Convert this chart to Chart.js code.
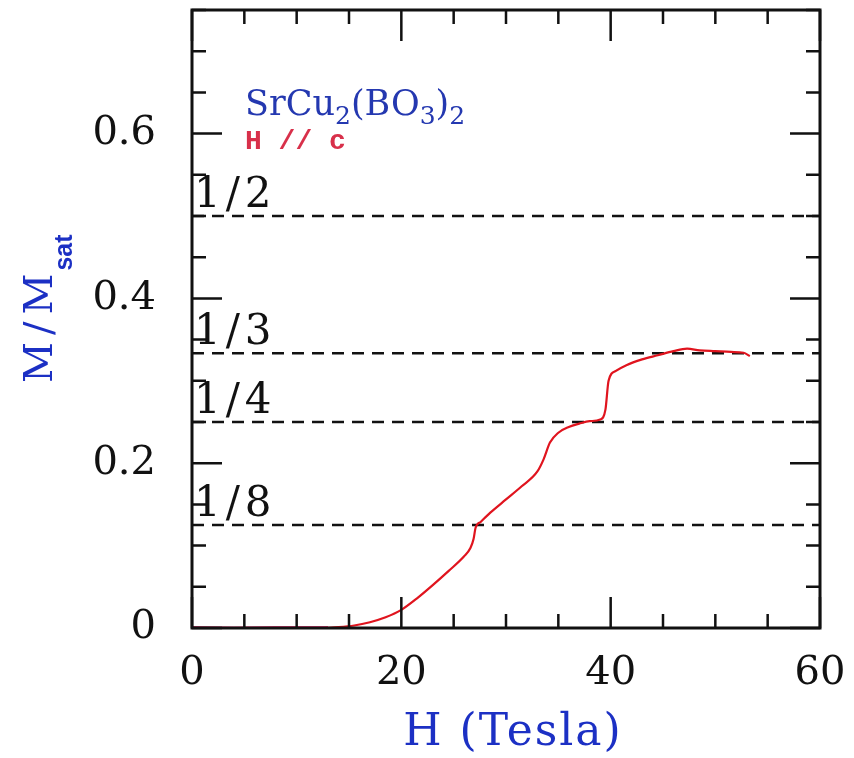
<!DOCTYPE html>
<html>
<head>
<meta charset="utf-8">
<script src="https://cdn.jsdelivr.net/npm/chart.js@4"></script>
<style>
  html, body { margin: 0; padding: 0; background: #fff; }
  #wrap { width: 854px; height: 758px; }
</style>
</head>
<body>
<div id="wrap"><canvas id="magChart" width="854" height="758"></canvas></div>
<script>
// low-field part of the sweep (drawn pinkish in the original)
const fieldLow = [0, 4, 8, 13];
const momentLow = [0.001, 0.0005, 0.001, 0.001];

// main magnetization curve, H in Tesla, M/Msat
const field = [12.5, 14, 15.5, 17, 18.5, 20, 21.5, 23, 24.5, 26, 26.6, 26.9, 27.1, 27.6, 28.5,
    30, 31.5, 33, 33.6, 34.2, 35, 36, 37, 38, 39, 39.5, 39.8, 40.5, 41.5, 43, 44.5,
    46, 47.3, 48.5, 50, 51.5, 52.7, 53.3];
const moment = [0.000, 0.001, 0.003, 0.007, 0.013, 0.022, 0.036, 0.052, 0.069, 0.087, 0.097, 0.108, 0.122, 0.129, 0.140,
    0.156, 0.172, 0.190, 0.205, 0.225, 0.237, 0.244, 0.248, 0.251, 0.253, 0.265, 0.300, 0.312, 0.319, 0.326, 0.331,
    0.336, 0.339, 0.337, 0.336, 0.335, 0.334, 0.330];

const plateauValues = [1 / 2, 1 / 3, 1 / 4, 1 / 8];
const plateauLabels = ["1/2", "1/3", "1/4", "1/8"];

const xTicks = [0, 20, 40, 60];
const yTicks = [0, 0.2, 0.4, 0.6];
const xMinorStep = 5;
const yMinorStep = 0.05;

const serif = "'DejaVu Serif', 'Liberation Serif', serif";
const titleBlue = "#1c30c4";

const toPoints = (xs, ys) => xs.map((x, i) => ({ x: x, y: ys[i] }));

const plateauSets = plateauValues.map(v => ({
    data: [{ x: 0, y: v }, { x: 60, y: v }],
    borderColor: "#111",
    borderWidth: 2.5,
    borderDash: [12, 8],
    pointRadius: 0,
    fill: false
}));

const noPad = s => {
    s.paddingTop = 0; s.paddingBottom = 0;
    s.paddingLeft = 0; s.paddingRight = 0;
};

// inward ticks on all four sides + frame + annotations
const framePlugin = {
    id: "frameAndText",
    afterDraw(chart) {
        const { ctx, chartArea: a, scales } = chart;
        const xs = scales.x, ys = scales.y;
        ctx.save();
        ctx.strokeStyle = "#111";
        ctx.lineWidth = 2.5;

        // ticks
        for (let v = 0; v <= 60; v += xMinorStep) {
            const px = xs.getPixelForValue(v);
            const len = v % 20 === 0 ? 31 : 14;
            ctx.beginPath();
            ctx.moveTo(px, a.bottom); ctx.lineTo(px, a.bottom - len);
            ctx.moveTo(px, a.top); ctx.lineTo(px, a.top + len);
            ctx.stroke();
        }
        for (let i = 0; i * yMinorStep <= 0.75 + 1e-9; i++) {
            const v = i * yMinorStep;
            const py = ys.getPixelForValue(v);
            const len = i % 4 === 0 ? 30 : 14;
            ctx.beginPath();
            ctx.moveTo(a.left, py); ctx.lineTo(a.left + len, py);
            ctx.moveTo(a.right, py); ctx.lineTo(a.right - len, py);
            ctx.stroke();
        }

        // frame
        ctx.lineWidth = 3;
        ctx.strokeRect(a.left, a.top, a.right - a.left, a.bottom - a.top);

        // plateau labels
        ctx.fillStyle = "#111";
        ctx.font = "42px " + serif;
        ctx.letterSpacing = "5px";
        ctx.textAlign = "left";
        ctx.textBaseline = "alphabetic";
        plateauValues.forEach((v, i) => {
            ctx.fillText(plateauLabels[i], a.left + 2, ys.getPixelForValue(v) - 9);
        });

        // compound name with subscripts
        ctx.letterSpacing = "0px";
        ctx.fillStyle = "#2438b0";
        let cx = 245;
        const base = 115;
        const part = (txt, size, dy) => {
            ctx.font = size + "px " + serif;
            ctx.fillText(txt, cx, base + dy);
            cx += ctx.measureText(txt).width;
        };
        part("SrCu", 35, 0);
        part("2", 25, 9);
        part("(BO", 35, 0);
        part("3", 25, 9);
        part(")", 35, 0);
        part("2", 25, 9);

        ctx.fillStyle = "#d8304a";
        ctx.font = "bold 28px 'Liberation Mono', 'DejaVu Sans Mono', monospace";
        ctx.fillText("H // c", 245, 149);

        // x title
        ctx.fillStyle = titleBlue;
        ctx.font = "44px " + serif;
        ctx.letterSpacing = "2px";
        ctx.textAlign = "center";
        ctx.fillText("H (Tesla)", 513, 745);

        // y title, rotated, with subscript
        ctx.save();
        ctx.translate(52, 383);
        ctx.rotate(-Math.PI / 2);
        ctx.textAlign = "left";
        ctx.letterSpacing = "7px";
        ctx.font = "40px " + serif;
        ctx.fillText("M/M", 0, 0);
        const w = ctx.measureText("M/M").width;
        ctx.letterSpacing = "0px";
        ctx.font = "bold 25px 'Liberation Sans', Arial, sans-serif";
        ctx.fillText("sat", w - 4, 20);
        ctx.restore();

        ctx.restore();
    }
};

const ctx = document.getElementById("magChart").getContext("2d");

new Chart(ctx, {
    type: "line",
    data: {
        datasets: [
            {
                data: toPoints(field, moment),
                borderColor: "#e0141e",
                borderWidth: 2.2,
                pointRadius: 0,
                cubicInterpolationMode: "monotone",
                fill: false
            },
            {
                data: toPoints(fieldLow, momentLow),
                borderColor: "#e8407a",
                borderWidth: 2.2,
                pointRadius: 0,
                fill: false
            },
            ...plateauSets
        ]
    },
    options: {
        responsive: false,
        animation: false,
        layout: { padding: { top: 10, right: 34, left: 0, bottom: 0 } },
        plugins: {
            legend: { display: false },
            tooltip: { enabled: false }
        },
        scales: {
            x: {
                type: "linear",
                min: 0,
                max: 60,
                grid: { display: false },
                border: { display: false },
                afterBuildTicks: s => { s.ticks = xTicks.map(v => ({ value: v })); },
                afterFit: s => { s.height = 130; noPad(s); },
                ticks: {
                    color: "#111",
                    font: { family: serif, size: 40 },
                    padding: 14,
                    maxRotation: 0
                }
            },
            y: {
                type: "linear",
                min: 0,
                max: 0.75,
                grid: { display: false },
                border: { display: false },
                afterBuildTicks: s => { s.ticks = yTicks.map(v => ({ value: v })); },
                afterFit: s => { s.width = 192; noPad(s); },
                ticks: {
                    color: "#111",
                    font: { family: serif, size: 40 },
                    padding: 28,
                    callback: v => v === 0 ? "0" : v.toFixed(1)
                }
            }
        }
    },
    plugins: [framePlugin]
});
</script>
</body>
</html>
